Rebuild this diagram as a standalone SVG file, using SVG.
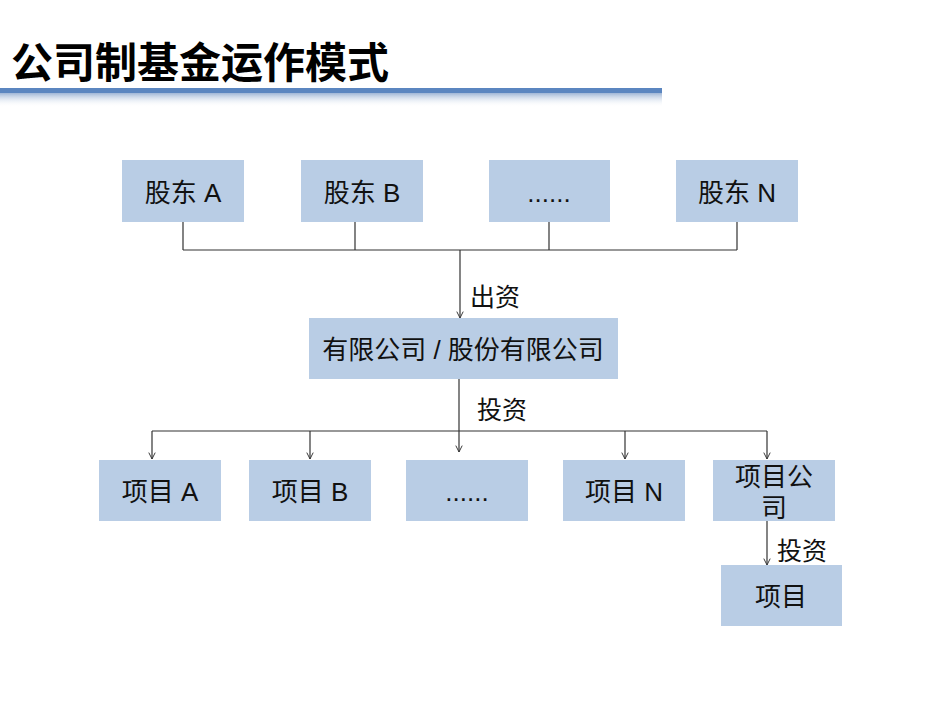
<svg xmlns="http://www.w3.org/2000/svg" width="950" height="713" viewBox="0 0 950 713">
<defs>
<linearGradient id="shade" x1="0" y1="0" x2="0" y2="1">
<stop offset="0" stop-color="#9fb6d6"/>
<stop offset="1" stop-color="#ffffff" stop-opacity="0"/>
</linearGradient>
<marker id="arr" viewBox="0 0 10 10" refX="9" refY="5" markerWidth="8" markerHeight="8" orient="auto" markerUnits="userSpaceOnUse">
<path d="M1,1 L9,5 L1,9" fill="none" stroke="#333" stroke-width="1.2"/>
</marker>
</defs>
<style>
.box{fill:#b9cde5;}
.t{font-family:"Liberation Sans","Noto Sans CJK SC",sans-serif;font-size:26px;fill:#111;text-anchor:middle;}
.lbl{font-family:"Liberation Sans","Noto Sans CJK SC",sans-serif;font-size:25px;fill:#111;}
.ln{fill:none;stroke:#333;stroke-width:1.2;}
</style>
<rect width="950" height="713" fill="#fff"/>
<g id="title">
<text x="11" y="78" font-family="Liberation Sans,'Noto Sans CJK SC',sans-serif" font-size="42" font-weight="bold" fill="#000">公司制基金运作模式</text>
<rect x="0" y="93" width="662" height="14" fill="url(#shade)"/>
<rect x="0" y="88" width="662" height="5" fill="#5b86c0"/>
</g>
<g id="connectors">
<path class="ln" d="M183,222 V250 M355,222 V250 M549,222 V250 M737,222 V250 M183,250 H737"/>
<path class="ln" d="M460,250 V318" marker-end="url(#arr)"/>
<path class="ln" d="M459,379 V452" marker-end="url(#arr)"/>
<path class="ln" d="M152,431 H767"/>
<path class="ln" d="M152,431 V459" marker-end="url(#arr)"/>
<path class="ln" d="M310,431 V459" marker-end="url(#arr)"/>
<path class="ln" d="M625,431 V459" marker-end="url(#arr)"/>
<path class="ln" d="M767,431 V459" marker-end="url(#arr)"/>
<path class="ln" d="M767,521 V565" marker-end="url(#arr)"/>
<text class="lbl" x="470" y="306">出资</text>
<text class="lbl" x="477" y="419">投资</text>
<text class="lbl" x="777" y="560">投资</text>
</g>
<g id="sh-a"><rect class="box" x="122" y="160" width="122" height="62"/><text class="t" x="183" y="202">股东 A</text></g>
<g id="sh-b"><rect class="box" x="301" y="160" width="122" height="62"/><text class="t" x="362" y="202">股东 B</text></g>
<g id="sh-dots"><rect class="box" x="489" y="160" width="121" height="62"/><text class="t" x="549" y="202">......</text></g>
<g id="sh-n"><rect class="box" x="676" y="160" width="122" height="62"/><text class="t" x="737" y="202">股东 N</text></g>
<g id="company"><rect class="box" x="309" y="318" width="309" height="61"/><text class="t" x="463" y="359">有限公司 / 股份有限公司</text></g>
<g id="p-a"><rect class="box" x="99" y="460" width="122" height="61"/><text class="t" x="160" y="501">项目 A</text></g>
<g id="p-b"><rect class="box" x="249" y="460" width="122" height="61"/><text class="t" x="310" y="501">项目 B</text></g>
<g id="p-dots"><rect class="box" x="406" y="460" width="122" height="61"/><text class="t" x="467" y="501">......</text></g>
<g id="p-n"><rect class="box" x="563" y="460" width="122" height="61"/><text class="t" x="624" y="501">项目 N</text></g>
<g id="p-co"><rect class="box" x="713" y="460" width="122" height="61"/><text class="t" x="774" y="486">项目公</text><text class="t" x="774" y="517">司</text></g>
<g id="proj"><rect class="box" x="721" y="565" width="121" height="61"/><text class="t" x="781" y="606">项目</text></g>
</svg>
